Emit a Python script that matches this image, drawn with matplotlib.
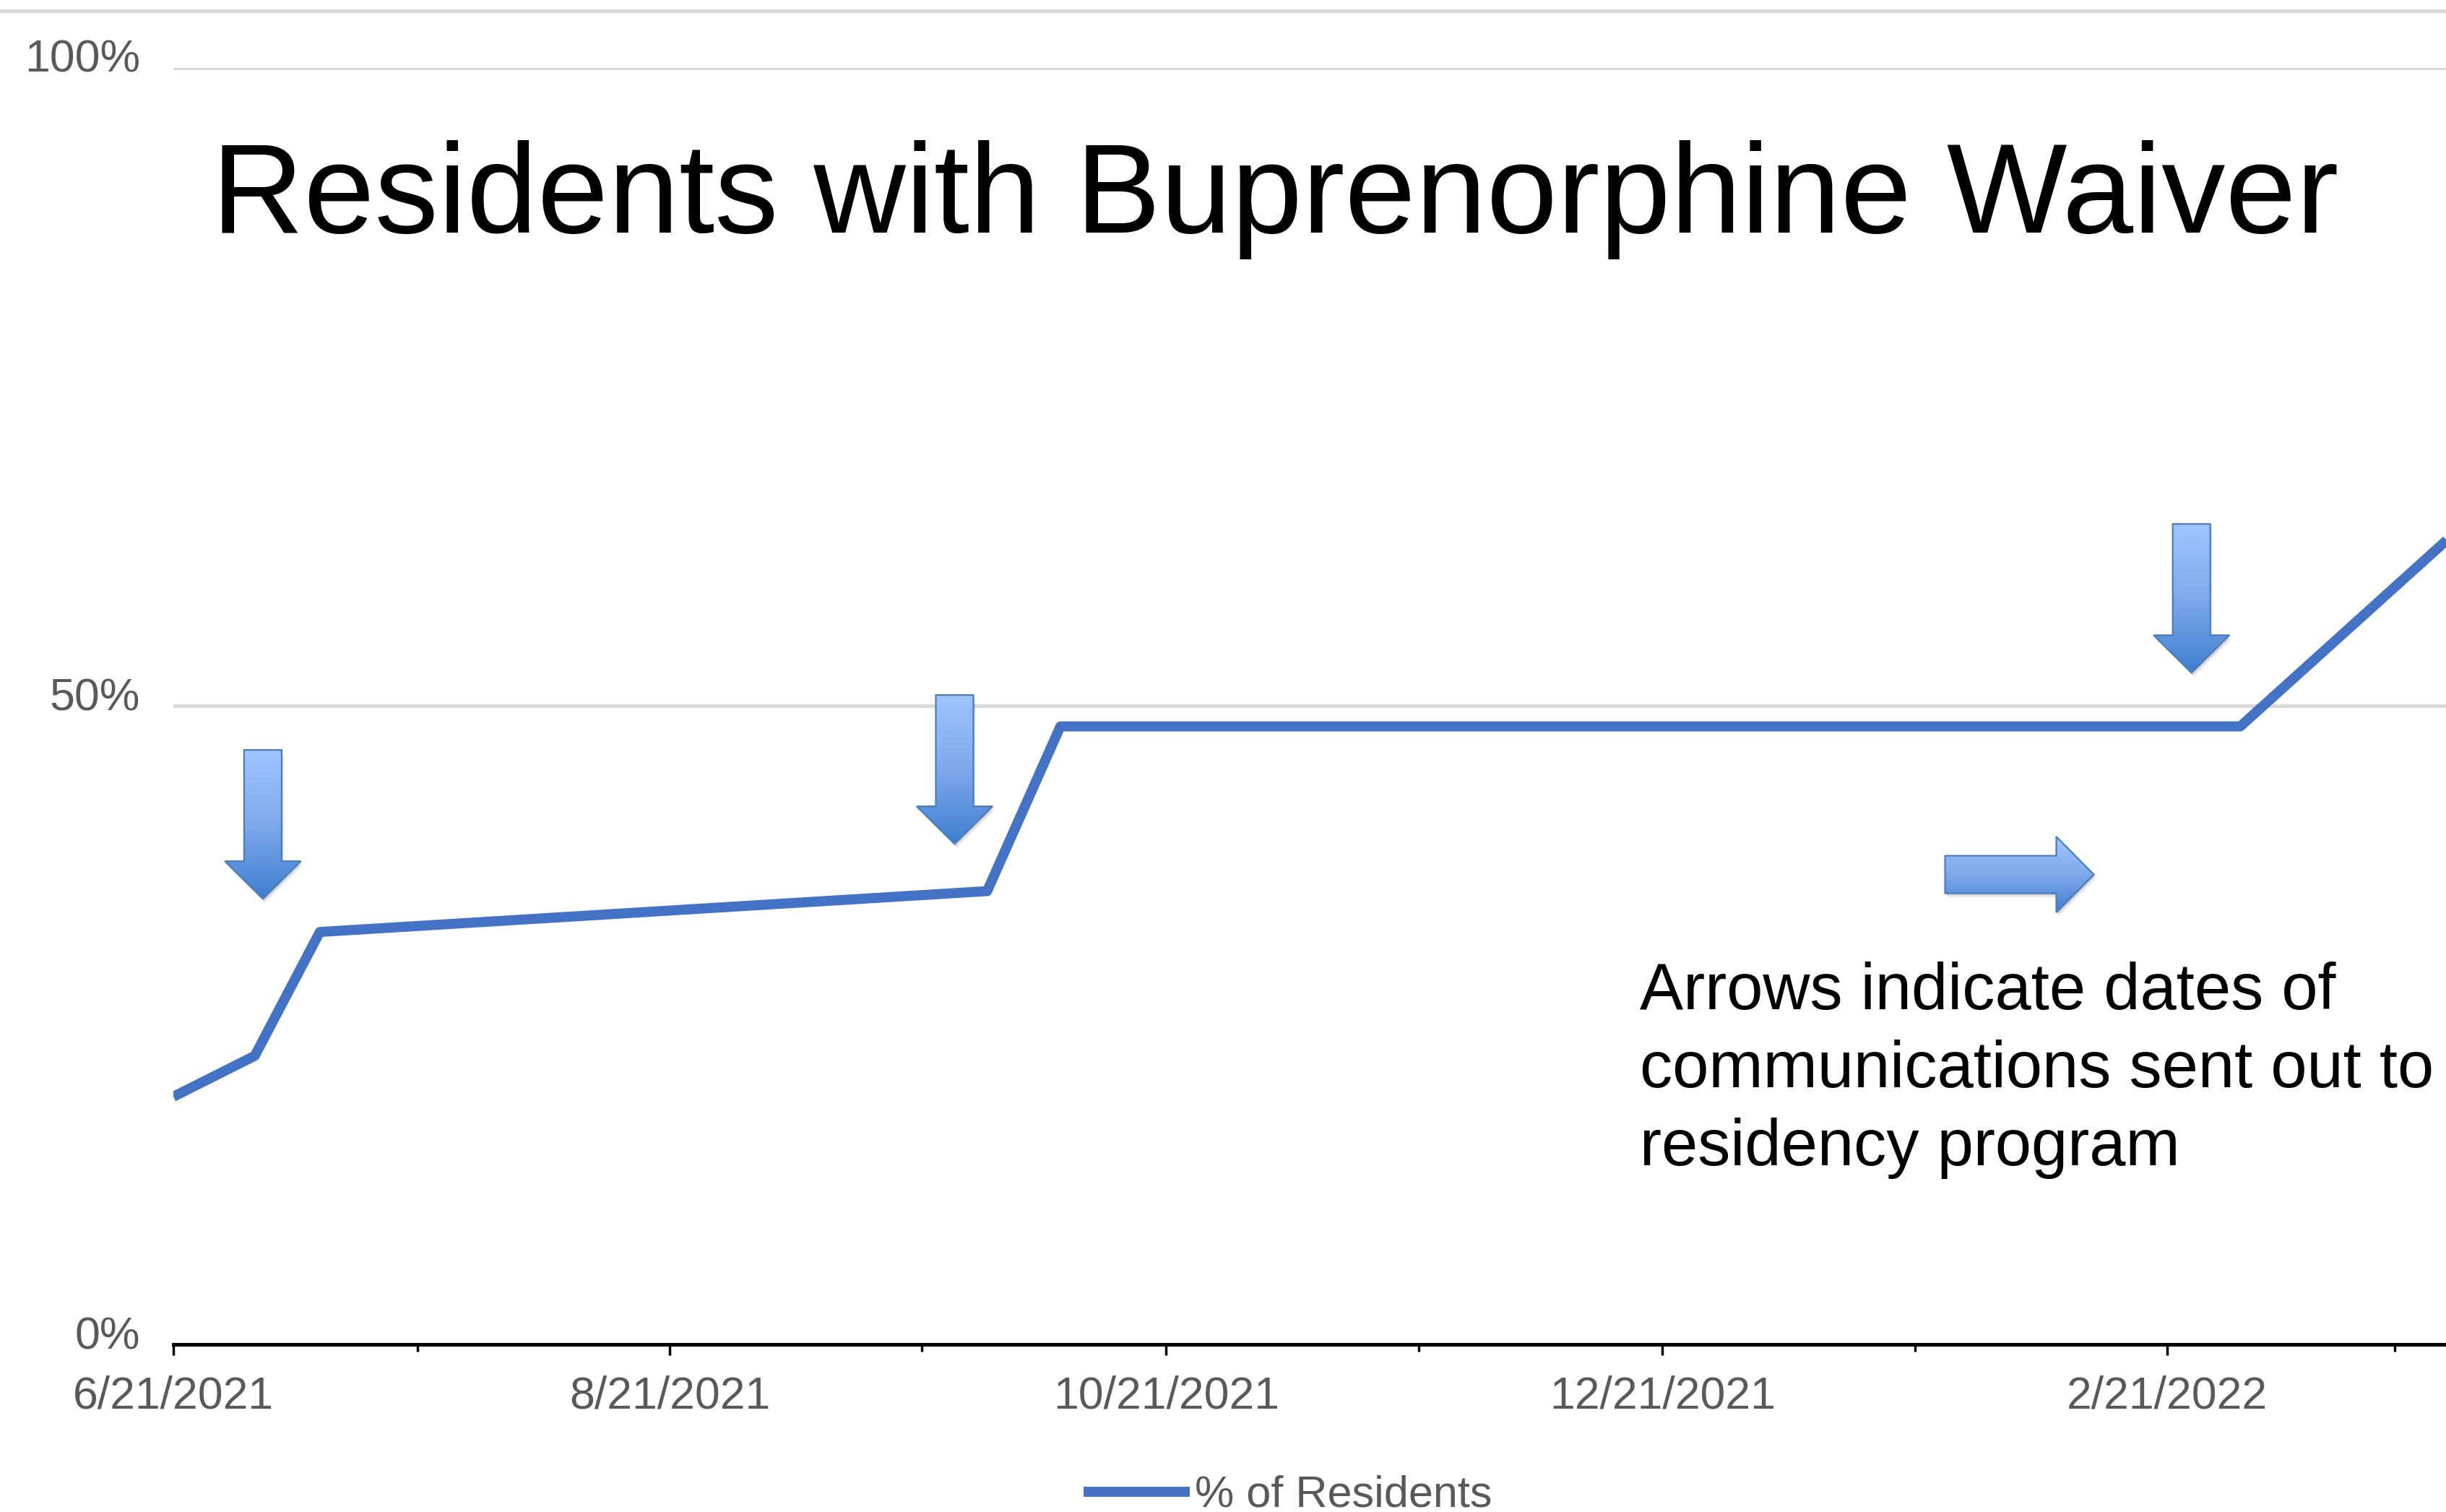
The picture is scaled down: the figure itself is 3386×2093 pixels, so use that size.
import numpy as np
import matplotlib
matplotlib.use("Agg")
import matplotlib.pyplot as plt
import matplotlib.dates as mdates
import matplotlib.transforms as mtransforms
from matplotlib.colors import LinearSegmentedColormap
from matplotlib.patches import Polygon
from matplotlib.lines import Line2D
from matplotlib.ticker import FuncFormatter

# values: share of residents holding the waiver (%)
dates = ["2021-06-21", "2021-07-01", "2021-07-09", "2021-09-29",
         "2021-10-08", "2022-03-02", "2022-03-30"]
pct_residents = [19.4, 22.6, 32.3, 35.5, 48.4, 48.4, 64.5]

# dates the communications went out (the down arrows)
comm_dates = ["2021-07-02", "2021-09-25", "2022-02-24"]

y_ticks = [0, 50, 100]
y_tick_labels = ["0%", "50%", "100%"]

title = "Residents with Buprenorphine Waiver"
series_name = "% of Residents"
note_lines = ["Arrows indicate dates of",
              "communications sent out to",
              "residency program"]

W, H, DPI = 3386, 2093, 100
LINE_BLUE = "#4472C4"
GRAY_TXT = "#595959"
GRID = "#d9d9d9"

plt.rcParams['font.family'] = ['Liberation Sans', 'DejaVu Sans']

fig = plt.figure(figsize=(W / DPI, H / DPI), dpi=DPI)
ax = fig.add_axes([240 / W, 1 - 1861 / H, 1 - 240 / W, (1861 - 93.5) / H])

x = mdates.datestr2num(dates)
ax.plot(x, pct_residents, color=LINE_BLUE, lw=10, solid_joinstyle='round',
        solid_capstyle='butt', label=series_name, zorder=3)

x_start = mdates.datestr2num("2021-06-21")
x_end = x_start + (W - 240) / 11.265
ax.set_xlim(x_start, x_end)
ax.set_ylim(0, 100)

# axes styling
for side in ["top", "right", "left"]:
    ax.spines[side].set_visible(False)
ax.spines["bottom"].set_color("black")
ax.spines["bottom"].set_linewidth(3.6)
ax.spines["bottom"].set_zorder(4)

ax.set_yticks(y_ticks)
ax.set_yticklabels(y_tick_labels)
ax.yaxis.grid(True, color=GRID, lw=3.6)
ax.set_axisbelow(True)

ax.xaxis.set_major_locator(mdates.MonthLocator(bymonth=[2, 4, 6, 8, 10, 12], bymonthday=21))
ax.xaxis.set_minor_locator(mdates.MonthLocator(bymonth=[1, 3, 5, 7, 9, 11], bymonthday=21))


def fmt_date(v, pos):
    d = mdates.num2date(v)
    return f"{d.month}/{d.day}/{d.year}"


ax.xaxis.set_major_formatter(FuncFormatter(fmt_date))
ax.tick_params(axis='x', which='major', length=10.8, width=2.5, color='black',
               pad=20, labelsize=45, labelcolor=GRAY_TXT)
ax.tick_params(axis='x', which='minor', length=7, width=2.5, color='black')
ax.tick_params(axis='y', length=0, pad=33, labelsize=45, labelcolor=GRAY_TXT)

# y labels sit a bit above their gridline
shift = mtransforms.ScaledTranslation(0, -6 / DPI, fig.dpi_scale_trans)
for lbl in ax.get_yticklabels():
    lbl.set_verticalalignment('baseline')
    lbl.set_transform(lbl.get_transform() + shift)

# block arrows with a vertical gradient
px_day = ax.bbox.width / (x_end - x_start)
px_pct = ax.bbox.height / 100.0
arrow_cmap = LinearSegmentedColormap.from_list("arr", ["#A0C5FF", "#7FA9EC", "#3F7FCF"])


def draw_arrow(tip_x, tip_y, direction):
    L, HL, sw, hw = 206, 52, 26, 52.5
    if direction == "down":
        pts = [(0, 0), (hw, HL), (sw, HL), (sw, L), (-sw, L), (-sw, HL), (-hw, HL)]
    else:
        pts = [(0, 0), (-HL, hw), (-HL, sw), (-L, sw), (-L, -sw), (-HL, -sw), (-HL, -hw)]
    verts = np.array([(tip_x + dx / px_day, tip_y + dy / px_pct) for dx, dy in pts])
    # soft shadow
    for k, a in [(6, 0.06), (4, 0.08), (2, 0.10)]:
        sh = verts + np.array([k * 0.5 / px_day, -k / px_pct])
        ax.add_patch(Polygon(sh, closed=True, facecolor='black', edgecolor='none',
                             alpha=a, zorder=4))
    poly = Polygon(verts, closed=True, facecolor='none', edgecolor='#4A7EBB',
                   lw=1.6, zorder=6)
    ax.add_patch(poly)
    grad = np.linspace(0, 1, 256).reshape(-1, 1)
    im = ax.imshow(grad, cmap=arrow_cmap, aspect='auto', origin='upper',
                   extent=(verts[:, 0].min(), verts[:, 0].max(),
                           verts[:, 1].min(), verts[:, 1].max()),
                   zorder=5, interpolation='bilinear')
    im.set_clip_path(poly)


arrow_tips = [34.9, 39.2, 52.6]
for d, ty in zip(comm_dates, arrow_tips):
    draw_arrow(mdates.datestr2num(d), ty, "down")
draw_arrow(mdates.datestr2num("2022-02-12"), 36.8, "right")

ax.set_xlim(x_start, x_end)
ax.set_ylim(0, 100)

# thin rule along the very top of the image
fig.add_artist(Line2D([0, 1], [1 - 15 / H] * 2, transform=fig.transFigure,
                      color=GRID, lw=3.6))

fig.text(1765 / W, 1 - 322 / H, title, ha='center', va='baseline',
         fontsize=127, color='black')

for i, line in enumerate(note_lines):
    fig.text(2270 / W, 1 - (1397 + 108 * i) / H, line, ha='left',
             va='baseline', fontsize=65, color='black')

handles, labels = ax.get_legend_handles_labels()
fig.legend(handles, labels, loc='lower left', bbox_to_anchor=(1500 / W, -6 / H),
           frameon=False, fontsize=44, labelcolor=GRAY_TXT,
           handlelength=2.4, handletextpad=0.12, borderpad=0, borderaxespad=0)

fig.savefig("out.png", dpi=DPI)
